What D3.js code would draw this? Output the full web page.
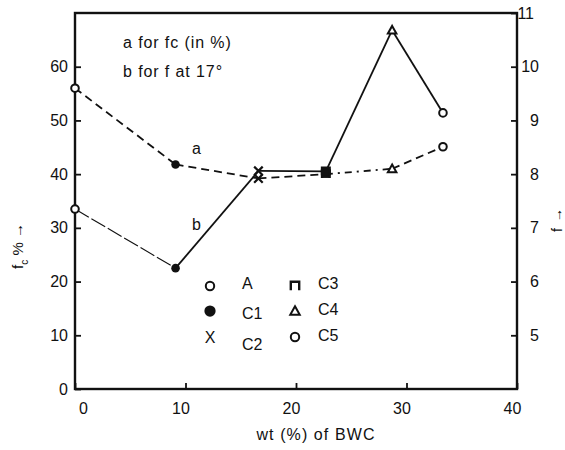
<!DOCTYPE html>
<html>
<head>
<meta charset="utf-8">
<script src="https://cdn.jsdelivr.net/npm/d3@7"></script>
<style>
  body { margin: 0; background: #fff; }
  text { font-family: "Liberation Sans", Arial, sans-serif; fill: #111; }
</style>
</head>
<body>
<div id="chart"></div>
<script>
// compositions and their BWC content (wt %)
var comps = ["A", "C1", "C2", "C3", "C4", "C5"];
var bwc = [0, 9.1, 16.6, 22.7, 28.7, 33.3];
// curve a: fc in % (left axis)
var fcValues = [56, 41.8, 39.2, 40.0, 41.0, 45.1];
// curve b: f at 17 deg (right axis)
var fValues = [7.35, 6.25, 8.06, 8.05, 10.68, 9.14];

var xTicks = [0, 10, 20, 30, 40];
var leftTicks = [0, 10, 20, 30, 40, 50, 60];
var rightTicks = [5, 6, 7, 8, 9, 10, 11];

var svgWidth = 565;
var svgHeight = 450;
var margin = { top: 13, right: 48, bottom: 61, left: 75 };
var width = svgWidth - margin.left - margin.right;
var height = svgHeight - margin.top - margin.bottom;

var svg = d3.select("#chart")
  .append("svg")
  .attr("width", svgWidth)
  .attr("height", svgHeight);

var chartGroup = svg.append("g")
  .attr("transform", `translate(${margin.left}, ${margin.top})`);

// scales
var xScale = d3.scaleLinear().domain([0, 40]).range([0, width]);
var yLeft = d3.scaleLinear().domain([0, 70]).range([height, 0]);
var yRight = d3.scaleLinear().domain([4, 11]).range([height, 0]);

// axes with inward ticks
var xAxis = d3.axisBottom(xScale).tickValues(xTicks).tickSizeInner(-6).tickSizeOuter(0).tickPadding(14);
var leftAxis = d3.axisLeft(yLeft).tickValues(leftTicks).tickSizeInner(-6).tickSizeOuter(0).tickPadding(7);
var rightAxis = d3.axisRight(yRight).tickValues(rightTicks).tickFormat(d3.format("d"))
  .tickSizeInner(-6).tickSizeOuter(0).tickPadding(7);

var gx = chartGroup.append("g")
  .attr("transform", `translate(0, ${height})`)
  .call(xAxis);
gx.selectAll("text").attr("dx", d => d === 0 ? 8 : -5);

var gl = chartGroup.append("g").call(leftAxis);

var gr = chartGroup.append("g")
  .attr("transform", `translate(${width}, 0)`)
  .call(rightAxis);
gr.selectAll("text")
  .attr("text-anchor", "end")
  .attr("x", d => d === 11 ? 17 : 22);

[gx, gl, gr].forEach(function(g) {
  g.select(".domain").remove();
  g.selectAll("line").attr("stroke", "#111").attr("stroke-width", 1.8);
  g.selectAll("text").style("font-size", "16px").attr("fill", "#111");
});

// frame
chartGroup.append("rect")
  .attr("width", width)
  .attr("height", height)
  .attr("fill", "none")
  .attr("stroke", "#111")
  .attr("stroke-width", 2.4);

// data
var rows = comps.map(function(c, i) {
  return { comp: c, x: bwc[i], fc: fcValues[i], f: fValues[i] };
});

// curve a: dashed (segment C3-C4 dash-dot)
rows.slice(1).forEach(function(d, i) {
  var p = rows[i];
  chartGroup.append("line")
    .attr("x1", xScale(p.x)).attr("y1", yLeft(p.fc))
    .attr("x2", xScale(d.x)).attr("y2", yLeft(d.fc))
    .attr("stroke", "#111")
    .attr("stroke-width", 1.8)
    .attr("stroke-dasharray", d.comp === "C4" ? "7,5,2,5" : "8,5");
});

// curve b: solid (first segment thin and broken)
rows.slice(1).forEach(function(d, i) {
  var p = rows[i];
  chartGroup.append("line")
    .attr("x1", xScale(p.x)).attr("y1", yRight(p.f))
    .attr("x2", xScale(d.x)).attr("y2", yRight(d.f))
    .attr("stroke", "#111")
    .attr("stroke-width", d.comp === "C1" ? 1.1 : 1.8)
    .attr("stroke-dasharray", d.comp === "C1" ? "16,3" : null);
});

// marker drawing
function drawMarker(g, comp, cx, cy, s) {
  if (comp === "A" || comp === "C5") {
    g.append("circle").attr("cx", cx).attr("cy", cy).attr("r", 4 * s)
      .attr("fill", "#fff").attr("stroke", "#111").attr("stroke-width", 2);
  } else if (comp === "C1") {
    g.append("circle").attr("cx", cx).attr("cy", cy).attr("r", 4.5 * s)
      .attr("fill", "#111");
  } else if (comp === "C2") {
    var k = 4.5 * s;
    g.append("path")
      .attr("d", `M${cx - k},${cy - k}L${cx + k},${cy + k}M${cx + k},${cy - k}L${cx - k},${cy + k}`)
      .attr("stroke", "#111").attr("stroke-width", 2.2).attr("fill", "none");
  } else if (comp === "C3") {
    var q = 4 * s;
    g.append("path")
      .attr("d", `M${cx - q},${cy + q}L${cx - q},${cy - q}L${cx + q},${cy - q}L${cx + q},${cy + q}`)
      .attr("stroke", "#111").attr("stroke-width", 2.4).attr("fill", s > 1 ? "none" : "#111");
  } else if (comp === "C4") {
    var t = 4.5 * s;
    g.append("path")
      .attr("d", `M${cx},${cy - t}L${cx + t},${cy + t * 0.8}L${cx - t},${cy + t * 0.8}Z`)
      .attr("stroke", "#111").attr("stroke-width", 2).attr("fill", "#fff");
  }
}

rows.forEach(function(d) {
  drawMarker(chartGroup, d.comp, xScale(d.x), yLeft(d.fc), 0.95);
  drawMarker(chartGroup, d.comp, xScale(d.x), yRight(d.f), 0.95);
});

// curve labels and notes
chartGroup.append("text").attr("x", 117).attr("y", 141).text("a").style("font-size", "16px");
chartGroup.append("text").attr("x", 117).attr("y", 217).text("b").style("font-size", "16px");
chartGroup.append("text").attr("x", 48).attr("y", 35).text("a for fc (in %)")
  .style("font-size", "16px").style("letter-spacing", "0.9px");
chartGroup.append("text").attr("x", 48).attr("y", 64).text("b for f at 17\u00b0")
  .style("font-size", "16px").style("letter-spacing", "0.9px");

// legend
var legendCols = [
  { comps: ["A", "C1", "C2"], sx: 135, tx: 167 },
  { comps: ["C3", "C4", "C5"], sx: 220, tx: 243 }
];
var legendSymY = [273, 298, 324];
var legendTextY = [[276, 306, 337], [276, 302, 328]];
legendCols.forEach(function(col, ci) {
  col.comps.forEach(function(c, i) {
    if (c === "C2") {
      chartGroup.append("text").attr("x", col.sx).attr("y", legendSymY[i] + 6)
        .attr("text-anchor", "middle").text("X").style("font-size", "16px");
    } else {
      drawMarker(chartGroup, c, col.sx, legendSymY[i], c === "C1" ? 1.25 : 1.05);
    }
    chartGroup.append("text")
      .attr("x", col.tx).attr("y", legendTextY[ci][i])
      .text(c).style("font-size", "16px");
  });
});

// axis titles
svg.append("text")
  .attr("x", 316).attr("y", 440)
  .attr("text-anchor", "middle")
  .style("font-size", "16px")
  .style("letter-spacing", "1.1px")
  .text("wt (%) of BWC");

var ly = svg.append("text")
  .attr("transform", "translate(23, 246) rotate(-90)")
  .attr("text-anchor", "middle")
  .style("font-size", "15px");
ly.append("tspan").text("f");
ly.append("tspan").attr("dy", 5).style("font-size", "10px").text("c");
ly.append("tspan").attr("dy", -5).text(" % \u2192");

var ry = svg.append("text")
  .attr("transform", "translate(562, 220) rotate(-90)")
  .attr("text-anchor", "middle")
  .style("font-size", "14px");
ry.append("tspan").text("f");
ry.append("tspan").attr("dx", 6).text("\u2192");
</script>
</body>
</html>
